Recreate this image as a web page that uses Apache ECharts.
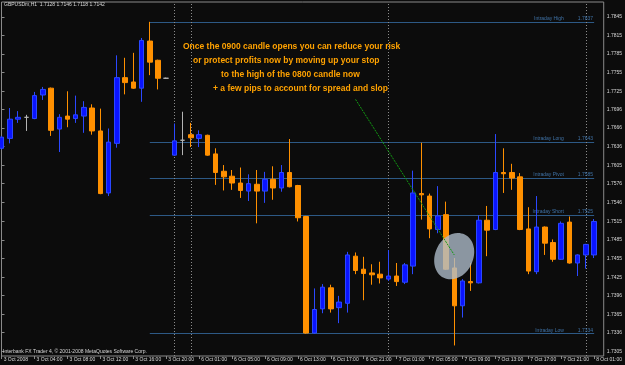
<!DOCTYPE html>
<html><head><meta charset="utf-8">
<script src="https://cdn.jsdelivr.net/npm/echarts@6/dist/echarts.min.js"></script>
<style>html,body{margin:0;padding:0;background:#0c0c0c;}#c{width:625px;height:365px;}</style>
</head><body><div id="c"></div>
<script>
// ---- data ----
// trading sessions shown: [day, first hour, last hour]
const sessions = [['3 Oct', 0, 20], ['5 Oct', 22, 23], ['6 Oct', 0, 23], ['7 Oct', 0, 23], ['8 Oct', 0, 1]];
const opens  = [1.7633,1.7649,1.7680,1.7683,1.7681,1.7719,1.7730,1.7664,1.7685,1.7681,1.7685,1.7698,1.7661,1.7561,1.7641,1.7747,1.7740,1.7730,1.7806,1.7775,1.7746,
                1.7622,1.7646,1.7655,1.7649,1.7654,1.7624,1.7596,1.7588,1.7577,1.7564,1.7575,1.7564,1.7583,1.7569,1.7594,1.7573,1.7523,1.7335,1.7374,1.7408,1.7376,1.7383,1.7459,1.7438,1.7432,1.7430,
                1.7422,1.7427,1.7417,1.7443,1.7560,1.7556,1.7502,1.7526,1.7440,1.7379,1.7418,1.7416,1.7517,1.7502,1.7594,1.7594,1.7587,1.7503,1.7434,1.7506,1.7481,1.7454,1.7514,1.7448,1.7461,1.7461];
const closes = [1.7651,1.7680,1.7683,1.7683,1.7718,1.7728,1.7662,1.7683,1.7680,1.7687,1.7699,1.7661,1.7560,1.7643,1.7747,1.7739,1.7730,1.7807,1.7772,1.7746,1.7746,
                1.7645,1.7646,1.7650,1.7655,1.7622,1.7594,1.7587,1.7577,1.7565,1.7576,1.7564,1.7583,1.7569,1.7594,1.7571,1.7521,1.7335,1.7373,1.7409,1.7374,1.7385,1.7461,1.7436,1.7431,1.7429,1.7424,
                1.7427,1.7418,1.7445,1.7561,1.7558,1.7503,1.7524,1.7438,1.7379,1.7419,1.7416,1.7517,1.7501,1.7594,1.7592,1.7585,1.7502,1.7435,1.7506,1.7480,1.7454,1.7512,1.7448,1.7461,1.7478,1.7515];
const lows   = [1.7631,1.7641,1.7674,1.7661,1.7680,1.7711,1.7653,1.7627,1.7667,1.7674,1.7658,1.7655,1.7559,1.7556,1.7634,1.7720,1.7729,1.7708,1.7751,1.7728,1.7745,
                1.7621,1.7622,1.7635,1.7635,1.7621,1.7574,1.7565,1.7566,1.7553,1.7548,1.7512,1.7545,1.7550,1.7563,1.7570,1.7515,1.7334,1.7334,1.7367,1.7368,1.7351,1.7368,1.7430,1.7388,1.7413,1.7415,
                1.7419,1.7411,1.7414,1.7430,1.7518,1.7488,1.7496,1.7437,1.7315,1.7360,1.7403,1.7415,1.7459,1.7501,1.7561,1.7566,1.7501,1.7430,1.7430,1.7461,1.7450,1.7453,1.7447,1.7427,1.7439,1.7456];
const highs  = [1.7653,1.7698,1.7693,1.7687,1.7724,1.7732,1.7731,1.7688,1.7725,1.7718,1.7709,1.7704,1.7697,1.7665,1.7783,1.7779,1.7787,1.7811,1.7837,1.7776,1.7747,
                1.7673,1.7692,1.7674,1.7662,1.7655,1.7633,1.7606,1.7598,1.7602,1.7591,1.7598,1.7595,1.7604,1.7606,1.7648,1.7574,1.7524,1.7407,1.7414,1.7413,1.7395,1.7466,1.7465,1.7458,1.7446,1.7450,
                1.7469,1.7448,1.7448,1.7597,1.7642,1.7560,1.7572,1.7547,1.7456,1.7422,1.7448,1.7525,1.7540,1.7656,1.7633,1.7608,1.7593,1.7538,1.7556,1.7507,1.7486,1.7515,1.7523,1.7462,1.7479,1.7519];
const yTickLabels = ['1.7845','1.7815','1.7785','1.7755','1.7725','1.7696','1.7666','1.7636','1.7605','1.7576','1.7546','1.7515','1.7485','1.7455','1.7425','1.7396','1.7365','1.7336','1.7305'];
const levelNames  = ['Intraday High','Intraday Long','Intraday Pivot','Intraday Short','Intraday Low'];
const levelValues = [1.7837, 1.7643, 1.7585, 1.7525, 1.7334];
const levelStart  = '3 Oct 18:00';
const headerText  = 'GBPUSDm,H1  1.7128 1.7146 1.7118 1.7142';
const footerText  = 'Interbank FX Trader 4, \u00A9 2001-2008 MetaQuotes Software Corp.';
const noteLines   = ['Once the 0900 candle opens you can reduce your risk',
                     'or protect profits now by moving up your stop',
                     'to the high of the 0800 candle now',
                     '+ a few pips to account for spread and slop'];
const highlightBar = '7 Oct 08:00', highlightValue = 1.7459;
const arrowFrom = [43, 1.7712], arrowTo = [54.6, 1.7461];

// ---- build ----
const cats = [];
sessions.forEach(([d, h0, h1]) => { for (let h = h0; h <= h1; h++) cats.push(d + ' ' + String(h).padStart(2, '0') + ':00'); });
const dayOf = c => c.slice(0, c.lastIndexOf(' '));
const separators = cats.filter((c, i) => i > 0 && dayOf(c) !== dayOf(cats[i - 1]));
const ohlc = opens.map((o, i) => [o, closes[i], lows[i], highs[i]]);
const tickVals = yTickLabels.map(Number);
const yMin = 1.7298, yMax = 1.7869;
const lblFont = 'Liberation Sans';

const chart = echarts.init(document.getElementById('c'), null, {renderer: 'canvas'});
const levelData = levelNames.map((n, k) => [
  {coord: [levelStart, levelValues[k]],
   label: {show: true, position: 'insideEndTop', distance: 1,
     formatter: '{n|' + n + '}{v|' + levelValues[k].toFixed(4) + '}',
     rich: {n: {fontSize: 5, color: '#3f72a6', fontFamily: lblFont},
            v: {fontSize: 5, color: '#3f72a6', fontFamily: lblFont, padding: [0, 0, 0, 14]}}}},
  {coord: [cats[cats.length - 1], levelValues[k]]}
]);

chart.setOption({
  backgroundColor: '#0c0c0c',
  animation: false,
  grid: [
    {left: 1.67, right: 23.33, top: 2, bottom: 9},
    {left: 1.5, right: 21, top: 2, bottom: 9, show: true, borderColor: '#8a8a8a', borderWidth: 1, backgroundColor: 'transparent'}
  ],
  xAxis: [
    {type: 'category', gridIndex: 0, data: cats, boundaryGap: false,
     axisLine: {show: false},
     axisTick: {show: true, interval: 3, length: 3, inside: false, lineStyle: {color: '#8a8a8a'}},
     axisLabel: {interval: 3, fontSize: 5, fontFamily: lblFont, color: '#d8d8d8', align: 'left', margin: 1, padding: [0, 0, 0, 2],
       formatter: v => v.endsWith('00:00') ? dayOf(v) + ' 2008' : v},
     splitLine: {show: false}},
    {type: 'value', gridIndex: 1, show: false, min: 0, max: 1}
  ],
  yAxis: [
    {type: 'value', gridIndex: 0, min: yMin, max: yMax, show: false},
    {type: 'value', gridIndex: 1, min: yMin, max: yMax, position: 'right',
     axisLine: {show: false},
     axisTick: {show: true, length: 3, customValues: tickVals, lineStyle: {color: '#8a8a8a'}},
     axisLabel: {customValues: tickVals, fontSize: 5, fontFamily: lblFont, color: '#d8d8d8', margin: 3,
       formatter: v => v.toFixed(4)},
     splitLine: {show: false}}
  ],
  series: [
    {type: 'candlestick', xAxisIndex: 0, yAxisIndex: 0, data: ohlc, barWidth: 5, z: 3,
     itemStyle: {color: '#0a14ff', color0: '#ff9000', borderColor: '#2b48ff', borderColor0: '#ff9000',
                 borderColorDoji: '#b4b4b4', borderWidth: 1},
     markLine: {silent: true, symbol: 'none', z: 1, animation: false,
       lineStyle: {color: '#2d5985', width: 1, type: 'solid'},
       label: {show: false},
       data: levelData.concat(separators.map(s => ({xAxis: s, lineStyle: {color: '#8c8c8c', type: [1, 2], width: 1}, label: {show: false}})))}
    }
  ]
});

const c0 = chart.convertToPixel({gridIndex: 0}, [cats.indexOf(highlightBar), highlightValue]);
const a0 = chart.convertToPixel({gridIndex: 0}, arrowFrom);
const a1 = chart.convertToPixel({gridIndex: 0}, arrowTo);
const noteX = [183, 193, 221, 213], noteY = [47, 61, 75, 89];
chart.setOption({
  graphic: [
    {type: 'text', left: 4, top: 2.5, z: 20, style: {text: headerText, fill: '#d8d8d8', font: '5px ' + lblFont}},
    {type: 'text', left: 3, top: 349.5, z: 20, style: {text: footerText, fill: '#d8d8d8', font: '5px ' + lblFont}},
    {type: 'ellipse', x: c0[0], y: c0[1], rotation: -0.45, z: 15, shape: {cx: 0, cy: 0, rx: 19, ry: 24},
     style: {fill: 'rgba(176,190,204,0.78)'}},
    {type: 'line', z: 16, shape: {x1: a0[0], y1: a0[1], x2: a1[0], y2: a1[1]},
     style: {stroke: '#129a12', lineWidth: 1, lineDash: [2, 1]}}
  ].concat(noteLines.map((t, k) => ({type: 'text', x: noteX[k], y: noteY[k], z: 20,
     style: {text: t, fill: '#ffa200', font: 'bold 8.5px ' + lblFont, textVerticalAlign: 'middle'}})))
});
</script></body></html>
